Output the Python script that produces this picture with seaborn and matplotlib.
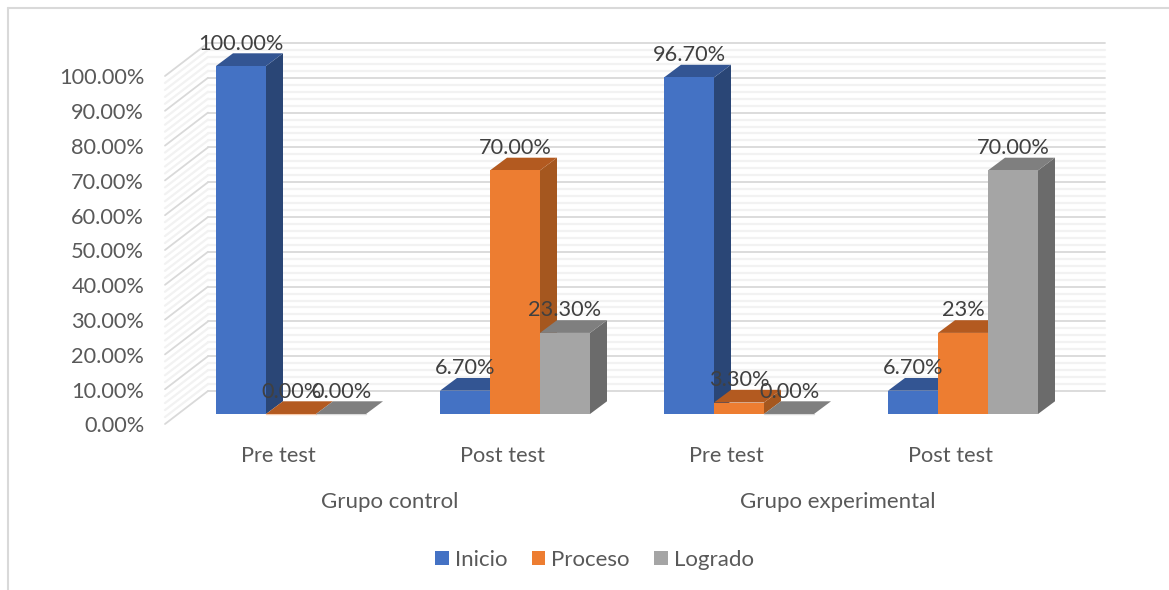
#%%
import numpy as np
import pandas as pd
import matplotlib.pyplot as plt
import matplotlib.transforms as mtrans
from matplotlib.patches import Polygon, Patch
from matplotlib.lines import Line2D
import seaborn as sns

sns.set_style("white")
plt.rcParams['font.family'] = ['Lato', 'DejaVu Sans']

tests = ['Pre test', 'Post test', 'Pre test', 'Post test']
groups = ['Grupo control', 'Grupo experimental']
levels = ['Inicio', 'Proceso', 'Logrado']
inicio = [100.0, 6.7, 96.7, 6.7]
proceso = [0.0, 70.0, 3.3, 23.3]
logrado = [0.0, 23.3, 0.0, 70.0]
inicio_labels = ['100.00%', '6.70%', '96.70%', '6.70%']
proceso_labels = ['0.00%', '70.00%', '3.30%', '23%']
logrado_labels = ['0.00%', '23.30%', '0.00%', '70.00%']
yticks = list(range(0, 101, 10))

front_colors = ['#4472C4', '#ED7D31', '#A5A5A5']
side_colors = ['#2A4676', '#A5571F', '#6B6B6B']
top_colors = ['#335593', '#B35A20', '#7F7F7F']
TEXT = '#595959'
LABEL = '#404040'
FS_NUM = 15.7
FS_TXT = 16

W, H = 1169, 590
px_x = 224.0            # one category in pixels
px_y = 3.48             # one percent in pixels
depth_x = 17 / px_x     # bar depth in data units
depth_y = 12.7 / px_y
wall_x = 13 / px_x      # offset of the side wall front edge from the bars
wall_y = 10 / px_y
back_y = 23 / px_y      # offset of back wall from the bars

#%% table
df = pd.DataFrame({
    'cat': [f'c{i}' for i in range(4)] * 3,
    'nivel': np.repeat(levels, 4),
    'valor': inicio + proceso + logrado,
})

fig = plt.figure(figsize=(W / 100, H / 100), dpi=100)
left, right, bottom, top = 165, 1105, 414, 66
ax = fig.add_axes([left / W, 1 - bottom / H, (right - left) / W, (bottom - top) / H])

sns.barplot(data=df, x='cat', y='valor', hue='nivel', palette=front_colors,
            width=150 / px_x, gap=0, saturation=1, legend=False, ax=ax, zorder=3)
ax.set_xlim((left - 291) / px_x, (right - 291) / px_x)
ax.set_ylim(0, 100)
ax.set_xlabel('')
ax.set_ylabel('')
sns.despine(ax=ax, left=True, bottom=True)
ax.patch.set_visible(False)

#%% walls: major and minor lines on back wall and side wall
x_front = ax.get_xlim()[0]
x_back = x_front + 43 / px_x
x_end = ax.get_xlim()[1]
for v in np.arange(0, 100.01, 2):
    major = v % 10 == 0
    color = '#D9D9D9' if major else '#F2F2F2'
    lw = 1.3 if major else 1.6
    zo = 1.5 if major else 1
    ax.plot([x_back, x_end], [v + back_y, v + back_y], color=color, lw=lw, zorder=zo, clip_on=False)
    ax.plot([x_front, x_back], [v - wall_y, v + back_y], color=color, lw=lw, zorder=zo, clip_on=False)

#%% faces of the bars, from the bars themselves
all_labels = [inicio_labels, proceso_labels, logrado_labels]
for s, cont in enumerate(ax.containers):
    for bar in cont:
        x0, w, h = bar.get_x(), bar.get_width(), bar.get_height()
        x1 = x0 + w
        bar.set_zorder(5 + s)
        bar.set_edgecolor('none')
        if h == 0:
            ax.plot([x0, x1], [0, 0], color=front_colors[s], lw=1, alpha=0.4, zorder=5 + s, clip_on=False)
        ax.add_patch(Polygon([(x1, 0), (x1 + depth_x, depth_y), (x1 + depth_x, h + depth_y), (x1, h)],
                             closed=True, fc=side_colors[s], ec='none', zorder=4 + s, clip_on=False))
        ax.add_patch(Polygon([(x0, h), (x0 + depth_x, h + depth_y), (x1 + depth_x, h + depth_y), (x1, h)],
                             closed=True, fc=top_colors[s], ec='none', zorder=4 + s, clip_on=False))
    anns = ax.bar_label(cont, labels=all_labels[s], padding=16.2, fontsize=FS_NUM, color=LABEL, zorder=20)
    for a in anns:
        a.set_va('center')
        a.set_clip_on(False)

#%% axis labels, pushed to the front edge of the wall
ax.set_yticks(yticks)
ax.set_yticklabels([f'{v:.2f}%' for v in yticks], fontsize=FS_NUM, color=TEXT)
ax.tick_params(axis='y', length=0, pad=15)
shift = mtrans.ScaledTranslation(0, -10.5 / 100, fig.dpi_scale_trans)
for lab in ax.get_yticklabels():
    lab.set_transform(lab.get_transform() + shift)

ax.set_xticks(np.arange(4) - wall_x)
ax.set_xticklabels(tests, fontsize=FS_NUM, color=TEXT)
ax.tick_params(axis='x', length=0, pad=23)

for i, g in enumerate(groups):
    ax.annotate(g, xy=(0.5 + 2 * i - wall_x, 0), xycoords=('data', 'axes fraction'),
                xytext=(0, -63.5), textcoords='offset points', ha='center', va='center',
                fontsize=FS_TXT, color=TEXT, annotation_clip=False)

#%% legend
handles = [Patch(fc=c, ec='none', label=l) for c, l in zip(front_colors, levels)]
fig.legend(handles=handles, loc='center', bbox_to_anchor=(594.5 / W, 1 - 559.5 / H), ncol=3, frameon=False,
           fontsize=FS_TXT, labelcolor=TEXT, handlelength=0.6, handleheight=0.6,
           handletextpad=0.28, columnspacing=1.1)

#%% chart border
border = '#D9D9D9'
fig.add_artist(Line2D([8 / W, 8 / W], [0, 1 - 8 / H], color=border, lw=1.5))
fig.add_artist(Line2D([8 / W, 1], [1 - 8 / H, 1 - 8 / H], color=border, lw=1.5))

fig.savefig('out.png', dpi=100)
